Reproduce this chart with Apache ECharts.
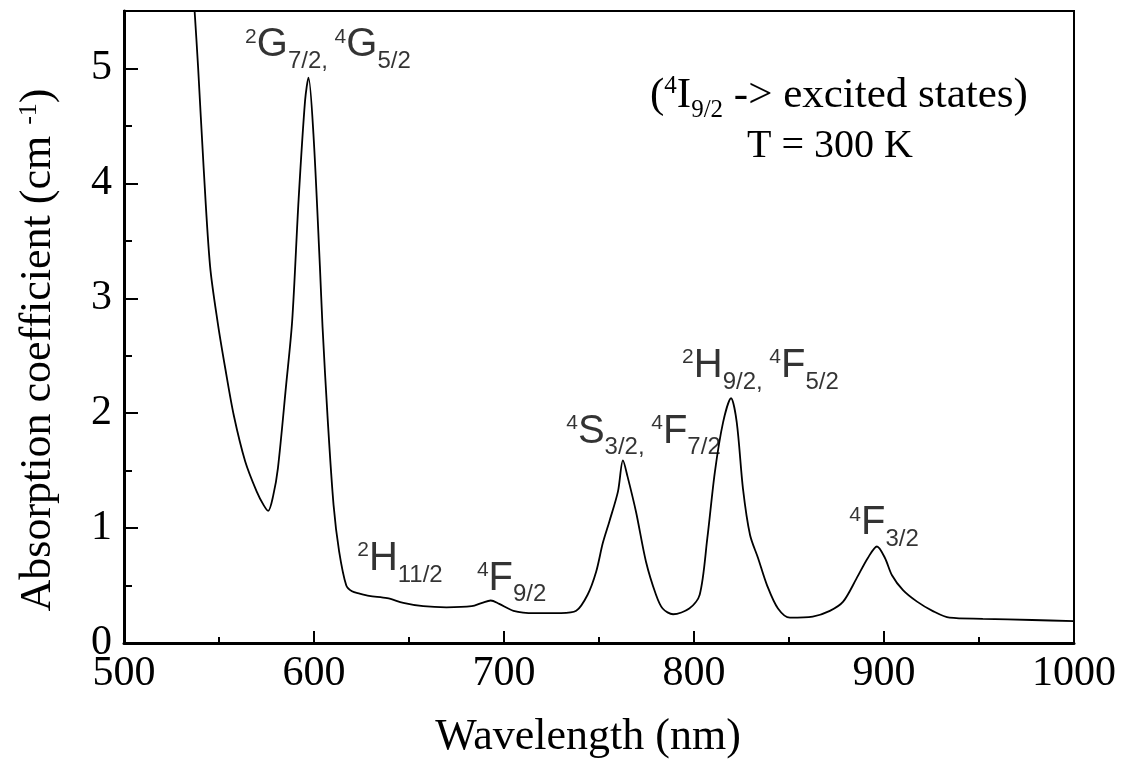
<!DOCTYPE html>
<html>
<head>
<meta charset="utf-8">
<script src="https://cdn.jsdelivr.net/npm/echarts@6/dist/echarts.min.js"></script>
<style>
html, body { margin: 0; padding: 0; background: #fff; }
#main { width: 1140px; height: 764px; }
</style>
</head>
<body>
<div id="main"></div>
<script>
// spectrum: wavelength (nm) -> absorption coefficient (cm-1)
var wavelength = [533, 537.2, 539, 541.9, 545.3, 549.4, 553.4, 557.8, 563.8, 569.8,
    573.5, 575.9, 578.5, 581, 585.3, 588.5, 591.9, 595.3, 597.1, 599.7,
    603.1, 604.5, 607.2, 610.3, 613.2, 617, 620, 624, 629, 638.5,
    647, 657.5, 669.7, 683, 688.5, 693, 697.5, 705, 716, 730,
    738, 744, 748.5, 752, 755.5, 760, 762.6, 765, 769.5, 774.7,
    780, 783.5, 789, 797.5, 803, 807, 811, 815.3, 819.5, 822.5,
    825.8, 829.5, 833.7, 838.5, 844.2, 850.5, 862.5, 871.5, 878.5, 885.5,
    891.5, 896.3, 900.5, 904.2, 910, 917.4, 925.5, 934.5, 952, 978,
    1000];
var absorption = [6.54, 5.49, 5.01, 4.14, 3.28, 2.78, 2.38, 1.98, 1.58, 1.32,
    1.2, 1.15, 1.28, 1.52, 2.24, 2.8, 3.86, 4.72, 4.92, 4.43,
    3.28, 2.75, 1.95, 1.2, 0.8, 0.5, 0.45, 0.43, 0.41, 0.39,
    0.35, 0.32, 0.31, 0.32, 0.35, 0.37, 0.34, 0.28, 0.26, 0.26,
    0.28, 0.42, 0.62, 0.87, 1.06, 1.32, 1.59, 1.45, 1.14, 0.71,
    0.42, 0.30, 0.25, 0.30, 0.42, 0.91, 1.49, 1.92, 2.13, 1.92,
    1.34, 0.94, 0.74, 0.50, 0.30, 0.22, 0.23, 0.28, 0.36, 0.56,
    0.74, 0.84, 0.74, 0.59, 0.46, 0.36, 0.28, 0.22, 0.21, 0.20,
    0.19];

// level labels, anchored by their top-left corner (data units)
var levelX = [564, 623, 686, 733, 794, 882];
var levelY = [5.37, 0.90, 0.73, 2.01, 2.58, 1.21];
var levelText = [
    '{sup|2}{m|G}{sub|7/2, }{sup|4}{m|G}{sub|5/2}',
    '{sup|2}{m|H}{sub|11/2}',
    '{sup|4}{m|F}{sub|9/2}',
    '{sup|4}{m|S}{sub|3/2, }{sup|4}{m|F}{sub|7/2}',
    '{sup|2}{m|H}{sub|9/2, }{sup|4}{m|F}{sub|5/2}',
    '{sup|4}{m|F}{sub|3/2}'
];

var serif = 'Liberation Serif';
var sans = 'Liberation Sans';

var chart = echarts.init(document.getElementById('main'));

var spectrum = wavelength.map(function (w, i) { return [w, absorption[i]]; });
var levels = levelX.map(function (x, i) { return [x, levelY[i]]; });

chart.setOption({
    animation: false,
    backgroundColor: '#fff',
    grid: {
        left: 124, right: 66, top: 11, bottom: 119,
        show: true, borderColor: '#000', borderWidth: 2
    },
    xAxis: {
        type: 'value', min: 500, max: 1000, interval: 100,
        axisLine: { lineStyle: { color: '#000', width: 3 } },
        axisTick: { inside: true, length: 12, lineStyle: { color: '#000', width: 2 } },
        minorTick: { show: true, splitNumber: 2, length: 6, lineStyle: { color: '#000', width: 2 } },
        splitLine: { show: false },
        axisLabel: {
            color: '#000', fontFamily: serif, fontSize: 42, margin: 10,
            formatter: function (v) { return String(v); }
        },
        name: 'Wavelength (nm)', nameLocation: 'middle', nameGap: 72,
        nameTextStyle: { color: '#000', fontFamily: serif, fontSize: 44, padding: [0, 22, 0, 0] }
    },
    yAxis: [{
        type: 'value', min: 0, max: 5.5, interval: 1,
        axisLine: { lineStyle: { color: '#000', width: 3 } },
        axisTick: { inside: true, length: 14, lineStyle: { color: '#000', width: 2 } },
        splitLine: { show: false },
        axisLabel: { color: '#000', fontFamily: serif, fontSize: 42, margin: 12, showMaxLabel: false }
    }, {
        // half-step ticks
        type: 'value', min: 0, max: 5.5, interval: 0.5, position: 'left',
        axisLine: { show: false },
        axisTick: { inside: true, length: 8, lineStyle: { color: '#000', width: 2 } },
        splitLine: { show: false },
        axisLabel: { show: false }
    }],
    series: [{
        type: 'line',
        data: spectrum,
        showSymbol: false,
        smooth: 0.3,
        lineStyle: { color: '#000', width: 1.8 },
        silent: true
    }, {
        type: 'scatter',
        data: levels,
        symbolSize: 1,
        itemStyle: { color: 'rgba(0,0,0,0)' },
        silent: true,
        label: {
            show: true,
            position: [0, 0],
            align: 'left',
            verticalAlign: 'top',
            formatter: function (p) { return levelText[p.dataIndex]; },
            rich: {
                m: { fontFamily: sans, fontSize: 40, verticalAlign: 'top', color: '#000' },
                sup: { fontFamily: sans, fontSize: 21, verticalAlign: 'top', padding: [1, 0, 0, 0], color: '#000' },
                sub: { fontFamily: sans, fontSize: 24, verticalAlign: 'top', padding: [24, 0, 0, 0], color: '#000' }
            }
        }
    }],
    graphic: [{
        type: 'text',
        x: 38, y: 350,
        rotation: Math.PI / 2,
        style: {
            text: '{a|Absorption coefficient (cm }{s|-1}{a|)}',
            align: 'center', verticalAlign: 'middle',
            rich: {
                a: { fontFamily: serif, fontSize: 44, verticalAlign: 'top', fill: '#000' },
                s: { fontFamily: serif, fontSize: 26, verticalAlign: 'top', fill: '#000' }
            }
        }
    }, {
        type: 'text',
        x: 650, y: 74,
        style: {
            text: '{t|(}{u|4}{t|I}{d|9/2}{t| -> excited states)}',
            align: 'left', verticalAlign: 'top',
            rich: {
                t: { fontFamily: serif, fontSize: 43, verticalAlign: 'top', fill: '#000' },
                u: { fontFamily: serif, fontSize: 25, verticalAlign: 'top', fill: '#000' },
                d: { fontFamily: serif, fontSize: 25, verticalAlign: 'top', padding: [24, 0, 0, 0], fill: '#000' }
            }
        }
    }, {
        type: 'text',
        x: 830, y: 146,
        style: {
            text: 'T = 300 K',
            align: 'center', verticalAlign: 'middle',
            fontFamily: serif, fontSize: 40, fill: '#000'
        }
    }]
});
</script>
</body>
</html>
